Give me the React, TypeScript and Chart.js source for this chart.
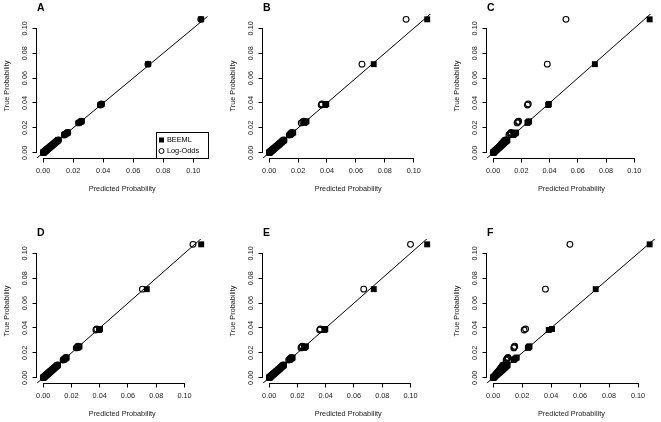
import React, { useEffect, useRef } from "react";
import { Chart, registerables } from "chart.js";
Chart.register(...registerables);

// ---------- data ----------
const trueProb = [0.1072, 0.0712, 0.0392, 0.0384, 0.0253, 0.0247, 0.0240, 0.0163, 0.0157, 0.0150, 0.0143, 0.0104, 0.0100, 0.0097, 0.0093, 0.0088, 0.0084, 0.0079, 0.0075, 0.0071, 0.0066, 0.0063, 0.0059, 0.0055, 0.0052, 0.0048, 0.0045, 0.0041, 0.0038, 0.0034, 0.0031, 0.0028, 0.0025, 0.0022, 0.0019, 0.0016, 0.0014, 0.0011, 0.0009, 0.0007, 0.0005, 0.0003, 0.0002, 0.0001];

const beemlA = [0.1053, 0.0700, 0.0390, 0.0382, 0.0256, 0.0249, 0.0236, 0.0165, 0.0158, 0.0148, 0.0141, 0.0102, 0.0099, 0.0096, 0.0091, 0.0087, 0.0083, 0.0078, 0.0074, 0.0070, 0.0066, 0.0062, 0.0058, 0.0055, 0.0051, 0.0048, 0.0044, 0.0041, 0.0037, 0.0034, 0.0031, 0.0027, 0.0024, 0.0022, 0.0019, 0.0016, 0.0013, 0.0011, 0.0009, 0.0007, 0.0005, 0.0003, 0.0002, 0.0001];
const logOddsA = [0.1050, 0.0698, 0.0389, 0.0381, 0.0255, 0.0248, 0.0236, 0.0164, 0.0157, 0.0148, 0.0141, 0.0102, 0.0099, 0.0095, 0.0091, 0.0087, 0.0082, 0.0078, 0.0074, 0.0070, 0.0066, 0.0062, 0.0058, 0.0054, 0.0051, 0.0047, 0.0044, 0.0040, 0.0037, 0.0034, 0.0031, 0.0027, 0.0024, 0.0021, 0.0019, 0.0016, 0.0013, 0.0011, 0.0009, 0.0007, 0.0005, 0.0003, 0.0002, 0.0001];

const beemlB = [0.1093, 0.0723, 0.0395, 0.0388, 0.0258, 0.0251, 0.0243, 0.0166, 0.0160, 0.0152, 0.0145, 0.0105, 0.0101, 0.0098, 0.0094, 0.0089, 0.0085, 0.0080, 0.0076, 0.0072, 0.0067, 0.0064, 0.0060, 0.0056, 0.0052, 0.0049, 0.0045, 0.0042, 0.0038, 0.0035, 0.0031, 0.0028, 0.0025, 0.0022, 0.0019, 0.0016, 0.0014, 0.0011, 0.0009, 0.0007, 0.0005, 0.0003, 0.0002, 0.0001];
const logOddsB = [0.0947, 0.0642, 0.0365, 0.0360, 0.0240, 0.0232, 0.0222, 0.0157, 0.0151, 0.0145, 0.0139, 0.0101, 0.0097, 0.0094, 0.0090, 0.0086, 0.0082, 0.0077, 0.0073, 0.0069, 0.0065, 0.0062, 0.0058, 0.0054, 0.0051, 0.0047, 0.0044, 0.0040, 0.0037, 0.0033, 0.0030, 0.0027, 0.0024, 0.0021, 0.0019, 0.0016, 0.0014, 0.0011, 0.0009, 0.0007, 0.0005, 0.0003, 0.0002, 0.0001];

const beemlC = [0.1109, 0.0721, 0.0395, 0.0390, 0.0255, 0.0249, 0.0243, 0.0163, 0.0158, 0.0150, 0.0143, 0.0101, 0.0098, 0.0095, 0.0091, 0.0086, 0.0082, 0.0077, 0.0073, 0.0069, 0.0065, 0.0062, 0.0058, 0.0054, 0.0051, 0.0047, 0.0044, 0.0040, 0.0037, 0.0033, 0.0030, 0.0027, 0.0024, 0.0021, 0.0018, 0.0016, 0.0013, 0.0011, 0.0009, 0.0007, 0.0005, 0.0003, 0.0002, 0.0001];
const logOddsC = [0.0516, 0.0384, 0.0249, 0.0243, 0.0181, 0.0175, 0.0170, 0.0128, 0.0124, 0.0118, 0.0112, 0.0087, 0.0084, 0.0081, 0.0078, 0.0074, 0.0071, 0.0067, 0.0064, 0.0061, 0.0057, 0.0055, 0.0052, 0.0049, 0.0046, 0.0043, 0.0040, 0.0037, 0.0034, 0.0031, 0.0028, 0.0026, 0.0023, 0.0020, 0.0018, 0.0015, 0.0013, 0.0010, 0.0008, 0.0006, 0.0005, 0.0003, 0.0002, 0.0001];

const beemlD = [0.1118, 0.0733, 0.0402, 0.0395, 0.0257, 0.0250, 0.0243, 0.0166, 0.0160, 0.0152, 0.0145, 0.0105, 0.0101, 0.0098, 0.0094, 0.0089, 0.0085, 0.0080, 0.0076, 0.0072, 0.0067, 0.0064, 0.0060, 0.0056, 0.0053, 0.0049, 0.0046, 0.0042, 0.0039, 0.0035, 0.0032, 0.0028, 0.0025, 0.0022, 0.0019, 0.0016, 0.0014, 0.0011, 0.0009, 0.0007, 0.0005, 0.0003, 0.0002, 0.0001];
const logOddsD = [0.1060, 0.0702, 0.0379, 0.0373, 0.0247, 0.0241, 0.0234, 0.0161, 0.0155, 0.0148, 0.0141, 0.0103, 0.0099, 0.0096, 0.0092, 0.0087, 0.0083, 0.0078, 0.0074, 0.0070, 0.0065, 0.0062, 0.0058, 0.0054, 0.0051, 0.0047, 0.0044, 0.0040, 0.0037, 0.0034, 0.0031, 0.0028, 0.0025, 0.0022, 0.0019, 0.0016, 0.0014, 0.0011, 0.0009, 0.0007, 0.0005, 0.0003, 0.0002, 0.0001];

const beemlE = [0.1118, 0.0740, 0.0397, 0.0391, 0.0260, 0.0253, 0.0246, 0.0166, 0.0160, 0.0152, 0.0145, 0.0105, 0.0101, 0.0098, 0.0094, 0.0089, 0.0085, 0.0080, 0.0076, 0.0072, 0.0067, 0.0064, 0.0060, 0.0056, 0.0053, 0.0049, 0.0046, 0.0042, 0.0039, 0.0035, 0.0032, 0.0028, 0.0025, 0.0022, 0.0019, 0.0016, 0.0014, 0.0011, 0.0009, 0.0007, 0.0005, 0.0003, 0.0002, 0.0001];
const logOddsE = [0.1000, 0.0669, 0.0362, 0.0357, 0.0235, 0.0229, 0.0225, 0.0157, 0.0151, 0.0144, 0.0138, 0.0101, 0.0097, 0.0094, 0.0090, 0.0086, 0.0082, 0.0077, 0.0073, 0.0069, 0.0065, 0.0062, 0.0058, 0.0054, 0.0051, 0.0047, 0.0044, 0.0040, 0.0037, 0.0033, 0.0030, 0.0027, 0.0024, 0.0021, 0.0019, 0.0016, 0.0014, 0.0011, 0.0009, 0.0007, 0.0005, 0.0003, 0.0002, 0.0001];

const beemlF = [0.1080, 0.0708, 0.0406, 0.0384, 0.0251, 0.0246, 0.0240, 0.0163, 0.0156, 0.0148, 0.0141, 0.0100, 0.0097, 0.0094, 0.0090, 0.0086, 0.0082, 0.0077, 0.0073, 0.0069, 0.0065, 0.0062, 0.0058, 0.0054, 0.0051, 0.0047, 0.0044, 0.0040, 0.0037, 0.0033, 0.0030, 0.0027, 0.0024, 0.0021, 0.0018, 0.0016, 0.0013, 0.0011, 0.0009, 0.0007, 0.0005, 0.0003, 0.0002, 0.0001];
const logOddsF = [0.0530, 0.0361, 0.0224, 0.0214, 0.0149, 0.0146, 0.0143, 0.0103, 0.0099, 0.0095, 0.0090, 0.0070, 0.0068, 0.0066, 0.0063, 0.0060, 0.0058, 0.0055, 0.0052, 0.0050, 0.0047, 0.0045, 0.0042, 0.0040, 0.0037, 0.0035, 0.0033, 0.0030, 0.0028, 0.0025, 0.0023, 0.0021, 0.0019, 0.0017, 0.0015, 0.0012, 0.0011, 0.0009, 0.0007, 0.0005, 0.0004, 0.0003, 0.0002, 0.0001];

const tickValues = [0, 0.02, 0.04, 0.06, 0.08, 0.1];
const tickLabels = ["0.00", "0.02", "0.04", "0.06", "0.08", "0.10"];
const panelLetters = ["A", "B", "C", "D", "E", "F"];
const seriesNames = ["BEEML", "Log-Odds"];
const xTitle = "Predicted Probability";
const yTitle = "True Probability";

const panelBeeml = [beemlA, beemlB, beemlC, beemlD, beemlE, beemlF];
const panelLogOdds = [logOddsA, logOddsB, logOddsC, logOddsD, logOddsE, logOddsF];

// ---------- layout ----------
const CANVAS_W = 220;
const CANVAS_H = 211;
const COL_CANVAS_LEFT = [0, 220, 441];
const ROW_CANVAS_TOP = [0, 211];
const PLOT_LEFT = [37, 263, 487];
const PLOT_TOP = [14, 239];
const PLOT_W = 170.5;
const PLOT_H = 144;
const FONT_FAMILY = "'Liberation Sans', Arial, Helvetica, sans-serif";
const FONT_SIZE = 7.3;
const LH = FONT_SIZE * 1.2;
const TEXT_COLOR = "#1a1a1a";

function rLimits(values: number[]): [number, number] {
  const lo = Math.min(...values);
  const hi = Math.max(...values);
  const d = (hi - lo) * 0.04;
  return [lo - d, hi + d];
}

function makeChart(canvas: HTMLCanvasElement, i: number) {
  const col = i % 3;
  const row = Math.floor(i / 3);
  const beeml = panelBeeml[i];
  const logOdds = panelLogOdds[i];
  const [xMin, xMax] = rLimits(beeml.concat(logOdds));
  const [yMin, yMax] = rLimits(trueProb);
  const lo = Math.min(xMin, yMin);
  const hi = Math.max(xMax, yMax);

  const canvasLeft = COL_CANVAS_LEFT[col];
  const canvasTop = ROW_CANVAS_TOP[row];
  const yAxisW = PLOT_LEFT[col] - canvasLeft;
  const padTop = PLOT_TOP[row] - canvasTop;
  const padRight = CANVAS_W - yAxisW - PLOT_W;
  const xAxisH = CANVAS_H - padTop - PLOT_H;
  const xTitlePadBottom = xAxisH - 31 - LH / 2;
  const yTitlePadTop = yAxisW - 30.5 - LH / 2;
  const showLegend = i === 0;
  const font = { family: FONT_FAMILY, size: FONT_SIZE };

  const overlay = {
    id: "rAxes" + i,
    afterDraw(chart: any) {
      const { ctx, chartArea, scales } = chart;
      const xs = scales.x;
      const ys = scales.y;
      ctx.save();
      ctx.strokeStyle = "#000";
      ctx.lineWidth = 1;
      ctx.beginPath();
      const yb = Math.round(chartArea.bottom) + 0.5;
      ctx.moveTo(xs.getPixelForValue(tickValues[0]), yb);
      ctx.lineTo(xs.getPixelForValue(tickValues[tickValues.length - 1]), yb);
      const xl = Math.round(chartArea.left) - 0.5;
      ctx.moveTo(xl, ys.getPixelForValue(tickValues[0]));
      ctx.lineTo(xl, ys.getPixelForValue(tickValues[tickValues.length - 1]));
      ctx.stroke();

      // panel letter
      ctx.fillStyle = "#000";
      ctx.font = "bold 10.5px " + FONT_FAMILY;
      ctx.textAlign = "left";
      ctx.textBaseline = "middle";
      ctx.fillText(panelLetters[i], chartArea.left, chartArea.top - 5.5);

      if (showLegend) {
        const bw = 52;
        const bh = 26;
        const bx = Math.round(chartArea.right - bw) + 0.5;
        const by = Math.round(chartArea.bottom - bh) + 0.5;
        ctx.strokeRect(bx, by, bw, bh);
        ctx.fillStyle = TEXT_COLOR;
        ctx.font = FONT_SIZE + "px " + FONT_FAMILY;
        const rows = [by + 7.5, by + 18.5];
        ctx.fillStyle = "#000";
        ctx.fillRect(bx + 5 - 2.5, rows[0] - 2.5, 5, 5);
        ctx.fillText(seriesNames[0], bx + 10.5, rows[0]);
        ctx.beginPath();
        ctx.arc(bx + 5, rows[1], 2.5, 0, Math.PI * 2);
        ctx.stroke();
        ctx.fillText(seriesNames[1], bx + 10.5, rows[1]);
      }
      ctx.restore();
    },
  };

  return new Chart(canvas, {
    type: "scatter",
    data: {
      datasets: [
        {
          label: "y = x",
          data: [
            { x: lo, y: lo },
            { x: hi, y: hi },
          ],
          showLine: true,
          borderColor: "#000",
          borderWidth: 1,
          pointRadius: 0,
          clip: 0,
        } as any,
        {
          label: seriesNames[0],
          data: trueProb.map((y, k) => ({ x: beeml[k], y })),
          pointStyle: "rect",
          pointRadius: 4.2,
          backgroundColor: "#000",
          borderWidth: 0,
          clip: false,
        } as any,
        {
          label: seriesNames[1],
          data: trueProb.map((y, k) => ({ x: logOdds[k], y })),
          pointStyle: "circle",
          pointRadius: 2.9,
          borderWidth: 1.1,
          borderColor: "#000",
          backgroundColor: "rgba(0,0,0,0)",
          clip: false,
        } as any,
      ],
    },
    options: {
      animation: false,
      responsive: false,
      devicePixelRatio: 1,
      events: [],
      layout: { padding: { top: padTop, right: padRight, left: 0, bottom: 0 } },
      plugins: { legend: { display: false }, tooltip: { enabled: false }, title: { display: false } },
      scales: {
        x: {
          type: "linear",
          min: xMin,
          max: xMax,
          afterBuildTicks: (s: any) => {
            s.ticks = tickValues.map((v) => ({ value: v }));
          },
          afterFit: (s: any) => {
            s.height = xAxisH;
          },
          grid: { drawOnChartArea: false, drawTicks: true, tickLength: 4.5, color: "#000", lineWidth: 1 },
          border: { display: false },
          ticks: {
            font,
            color: TEXT_COLOR,
            padding: 4.5,
            maxRotation: 0,
            minRotation: 0,
            autoSkip: false,
            callback: (v: any) => tickLabels[tickValues.indexOf(Number(v))] ?? "",
          },
          title: { display: true, text: xTitle, font, color: TEXT_COLOR, padding: { top: 0, bottom: xTitlePadBottom } },
        },
        y: {
          type: "linear",
          min: yMin,
          max: yMax,
          afterBuildTicks: (s: any) => {
            s.ticks = tickValues.map((v) => ({ value: v }));
          },
          afterFit: (s: any) => {
            s.width = yAxisW;
          },
          grid: { drawOnChartArea: false, drawTicks: true, tickLength: 4.5, color: "#000", lineWidth: 1 },
          border: { display: false },
          ticks: {
            font,
            color: TEXT_COLOR,
            padding: 0.5,
            minRotation: 90,
            maxRotation: 90,
            crossAlign: "center",
            autoSkip: false,
            callback: (v: any) => tickLabels[tickValues.indexOf(Number(v))] ?? "",
          },
          title: { display: true, text: yTitle, font, color: TEXT_COLOR, padding: { top: yTitlePadTop, bottom: 0 } },
        },
      },
    } as any,
    plugins: [overlay],
  });
}

export default function App() {
  const refs = useRef<(HTMLCanvasElement | null)[]>([]);
  useEffect(() => {
    const charts = refs.current.map((c, i) => (c ? makeChart(c, i) : null));
    return () => {
      charts.forEach((c) => c && c.destroy());
    };
  }, []);
  return (
    <div style={{ position: "absolute", left: 0, top: 0, width: 661, height: 422, background: "#fff", overflow: "hidden" }}>
      {panelLetters.map((_, i) => {
        const col = i % 3;
        const row = Math.floor(i / 3);
        return (
          <canvas
            key={i}
            ref={(el) => {
              refs.current[i] = el;
            }}
            width={CANVAS_W}
            height={CANVAS_H}
            style={{ position: "absolute", left: COL_CANVAS_LEFT[col], top: ROW_CANVAS_TOP[row], width: CANVAS_W, height: CANVAS_H }}
          />
        );
      })}
    </div>
  );
}
